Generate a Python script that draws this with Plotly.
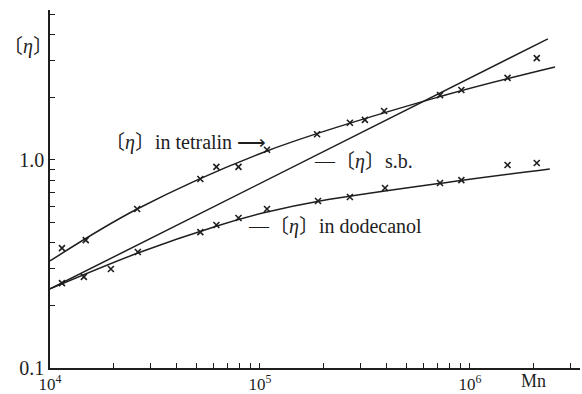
import plotly.graph_objects as go

# Measured intrinsic viscosities vs number-average molecular weight
mn_tetralin = [1.14e4, 1.48e4, 2.6e4, 5.2e4, 6.2e4, 7.9e4, 1.08e5, 1.87e5,
               2.68e5, 3.16e5, 3.9e5, 7.2e5, 9.1e5, 1.51e6, 2.08e6]
eta_tetralin = [0.377, 0.412, 0.581, 0.81, 0.926, 0.926, 1.12, 1.33,
                1.51, 1.56, 1.72, 2.05, 2.17, 2.48, 3.09]

mn_dodecanol = [1.14e4, 1.45e4, 1.95e4, 2.62e4, 5.2e4, 6.2e4, 7.9e4, 1.08e5,
                1.89e5, 2.68e5, 3.94e5, 7.2e5, 9.1e5, 1.51e6, 2.08e6]
eta_dodecanol = [0.256, 0.274, 0.299, 0.361, 0.45, 0.487, 0.526, 0.581,
                 0.635, 0.664, 0.733, 0.775, 0.80, 0.946, 0.967]

# Smoothed curves drawn through the data
fit_mn_tetralin = [1.0e4, 2.6e4, 1.08e5, 7.36e5, 2.54e6]
fit_eta_tetralin = [0.327, 0.581, 1.105, 2.03, 2.80]

fit_mn_dodecanol = [1.0e4, 2.62e4, 6.24e4, 1.08e5, 1.93e5, 8.03e5, 2.40e6]
fit_eta_dodecanol = [0.240, 0.357, 0.482, 0.562, 0.635, 0.784, 0.905]

# Unperturbed (theta) relation, a straight line on log-log axes
sb_mn = [1.0e4, 2.35e6]
sb_eta = [0.240, 3.82]

x_major = [1e4, 1e5, 1e6]
x_major_text = ["10<sup>4</sup>", "10<sup>5</sup>", "10<sup>6</sup>"]
x_minor = [m * d for d in (1e4, 1e5) for m in range(2, 10)] + [2e6, 3e6]
y_major = [0.1, 1.0]
y_major_text = ["0.1", "1.0"]
y_minor = [0.2, 0.3, 0.4, 0.5, 0.6, 0.7, 0.8, 0.9, 2, 3, 4, 5]

INK = "#1e1e1e"
SERIF = "Liberation Serif, 'Noto Sans CJK JP', serif"

fig = go.Figure()

line_style = dict(color=INK, width=1.5)
fig.add_trace(go.Scatter(x=fit_mn_tetralin, y=fit_eta_tetralin, mode="lines",
                         line=dict(shape="spline", smoothing=1.0, **line_style)))
fig.add_trace(go.Scatter(x=fit_mn_dodecanol, y=fit_eta_dodecanol, mode="lines",
                         line=dict(shape="spline", smoothing=1.0, **line_style)))
fig.add_trace(go.Scatter(x=sb_mn, y=sb_eta, mode="lines", line=line_style))

mk = dict(symbol="x-thin", size=6, line=dict(color=INK, width=1.6))
fig.add_trace(go.Scatter(x=mn_tetralin, y=eta_tetralin, mode="markers", marker=mk))
fig.add_trace(go.Scatter(x=mn_dodecanol, y=eta_dodecanol, mode="markers", marker=mk))

W, H = 582, 394
ML, MR, MT, MB = 50, 2, 10, 26
PW, PH = W - ML - MR, H - MT - MB


def px(xp):
    return (xp - ML) / PW


def py(yp):
    return (H - MB - yp) / PH


labels = [
    ("〔<i>η</i>〕in tetralin ⟶", 103, 142, "left"),
    ("—〔<i>η</i>〕s.b.", 312, 161, "left"),
    ("—〔<i>η</i>〕in dodecanol", 246, 226, "left"),
    ("〔<i>η</i>〕", 28, 46, "center"),
    ("Mn", 533, 381, "center"),
]
for text, xp, yp, anchor in labels:
    fig.add_annotation(x=px(xp), y=py(yp), xref="paper", yref="paper", text=text,
                       showarrow=False, xanchor=anchor, yanchor="middle",
                       font=dict(family=SERIF, size=20 if text != "Mn" else 18, color=INK))

axis_common = dict(
    type="log", showgrid=False, zeroline=False, showline=True, automargin=False,
    linecolor=INK, linewidth=1.6, ticks="inside", ticklen=5, tickwidth=1.2,
    tickcolor=INK, mirror=False,
)

fig.update_xaxes(range=[4, 6.524], tickmode="array", tickvals=x_major, ticktext=x_major_text,
                 tickfont=dict(family=SERIF, size=17, color=INK),
                 minor=dict(tickmode="array", tickvals=x_minor, ticks="inside",
                            ticklen=5, tickwidth=1.2, tickcolor=INK),
                 **axis_common)
fig.update_yaxes(range=[-1, 0.721], tickmode="array", tickvals=y_major, ticktext=y_major_text,
                 tickfont=dict(family=SERIF, size=20, color=INK),
                 minor=dict(tickmode="array", tickvals=y_minor, ticks="inside",
                            ticklen=5, tickwidth=1.2, tickcolor=INK),
                 **axis_common)

fig.update_layout(
    width=W, height=H, margin=dict(l=ML, r=MR, t=MT, b=MB, autoexpand=False),
    paper_bgcolor="white", plot_bgcolor="white", showlegend=False,
)

fig.write_html("out.html")
